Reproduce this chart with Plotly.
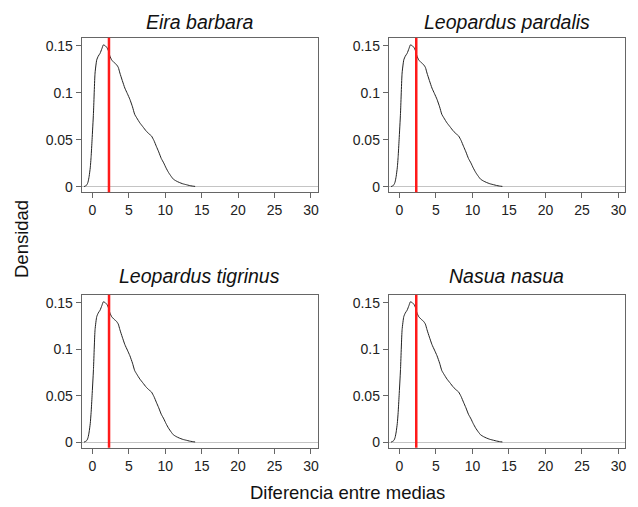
import plotly.graph_objects as go

species = ["Eira barbara", "Leopardus pardalis", "Leopardus tigrinus", "Nasua nasua"]
diff_x = [-1.15, -0.9, -0.75, -0.6, -0.45, -0.3, -0.18, -0.05, 0.14, 0.36, 0.59, 0.8, 1.05, 1.3, 1.5, 1.77,
          2.0, 2.18, 2.4, 2.64, 3.0, 3.3, 3.55, 3.77, 4.1, 4.45, 4.8, 5.14, 5.5, 5.8, 6.1, 6.5, 6.9,
          7.4, 7.8, 8.1, 8.45, 8.77, 9.1, 9.45, 9.8, 10.1, 10.45, 10.8, 11.1, 11.5, 11.9, 12.4, 12.9,
          13.3, 13.7, 14.1]
density = [0.0, 0.001, 0.002, 0.005, 0.011, 0.02, 0.032, 0.05, 0.078, 0.121, 0.135, 0.139, 0.142, 0.147,
           0.151, 0.150, 0.148, 0.145, 0.139, 0.135, 0.132, 0.130, 0.127, 0.121, 0.113, 0.105, 0.099,
           0.093, 0.085, 0.077, 0.073, 0.068, 0.064, 0.059, 0.056, 0.054, 0.049, 0.043, 0.037, 0.030,
           0.025, 0.020, 0.015, 0.011, 0.008, 0.006, 0.0045, 0.003, 0.002, 0.0012, 0.0006, 0.0002]
mean_diff = [2.27, 2.3, 2.28, 2.3]
x_ticks = [0, 5, 10, 15, 20, 25, 30]
y_ticks = [0, 0.05, 0.1, 0.15]
y_tick_labels = ["0", "0.05", "0.1", "0.15"]

W, H = 638, 507
x_domains = [[82 / W, 318 / W], [389.5 / W, 626 / W]]
y_domains = [[1 - 193 / H, 1 - 38 / H], [1 - 449.5 / H, 1 - 296 / H]]

fig = go.Figure()
axis_color = "#666666"
font_family = "Liberation Sans, Arial, sans-serif"

for i, name in enumerate(species):
    row, col = divmod(i, 2)
    n = i + 1
    xa = "x" if n == 1 else f"x{n}"
    ya = "y" if n == 1 else f"y{n}"
    fig.add_trace(go.Scatter(x=diff_x, y=density, mode="lines",
                             line=dict(color="#222222", width=1, shape="spline", smoothing=0.5),
                             xaxis=xa, yaxis=ya, showlegend=False, hoverinfo="skip"))
    fig.add_shape(type="line", xref=xa, yref=f"{ya} domain", x0=mean_diff[i], x1=mean_diff[i],
                  y0=0, y1=1, line=dict(color="#ff1a1a", width=2.5))
    xkey = "xaxis" if n == 1 else f"xaxis{n}"
    ykey = "yaxis" if n == 1 else f"yaxis{n}"
    fig.layout[xkey] = dict(domain=x_domains[col], anchor=ya, range=[-1.45, 30.9],
                            tickvals=x_ticks, ticks="outside", ticklen=5, tickcolor=axis_color,
                            showline=True, linecolor=axis_color, linewidth=1.3, mirror=True,
                            showgrid=False, zeroline=False,
                            tickfont=dict(size=14, color="#222", family=font_family))
    fig.layout[ykey] = dict(domain=y_domains[row], anchor=xa, range=[-0.006, 0.1585],
                            tickvals=y_ticks, ticktext=y_tick_labels, ticks="outside", ticklen=5,
                            tickcolor=axis_color, showline=True, linecolor=axis_color, linewidth=1.3,
                            mirror=True, showgrid=False, zeroline=True, zerolinecolor="#c4c4c4",
                            zerolinewidth=1,
                            tickfont=dict(size=14, color="#222", family=font_family))
    cx = (x_domains[col][0] + x_domains[col][1]) / 2
    ty = 1 - (22 if row == 0 else 277) / H
    fig.add_annotation(text=f"<i>{name}</i>", xref="paper", yref="paper", x=cx, y=ty,
                       xanchor="center", yanchor="middle", showarrow=False,
                       font=dict(size=19.5, color="#111", family=font_family))

fig.add_annotation(text="Densidad", xref="paper", yref="paper", x=21 / W, y=1 - 240 / H,
                   textangle=-90, xanchor="center", yanchor="middle", showarrow=False,
                   font=dict(size=18.5, color="#111", family=font_family))
fig.add_annotation(text="Diferencia entre medias", xref="paper", yref="paper", x=348 / W,
                   y=1 - 494 / H, xanchor="center", yanchor="middle", showarrow=False,
                   font=dict(size=18.5, color="#111", family=font_family))

fig.update_layout(width=W, height=H, margin=dict(l=0, r=0, t=0, b=0),
                  plot_bgcolor="white", paper_bgcolor="white", font=dict(family=font_family))
fig.write_html("out.html")
